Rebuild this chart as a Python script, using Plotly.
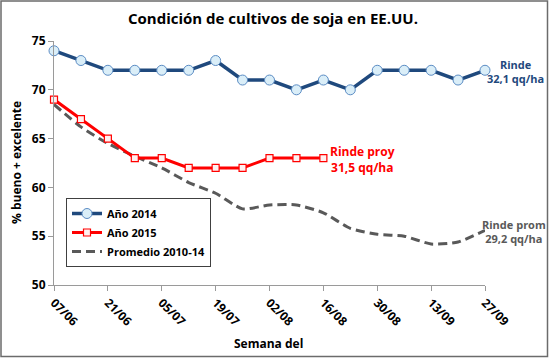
import plotly.graph_objects as go

weeks = ["07/06", "14/06", "21/06", "28/06", "05/07", "12/07", "19/07", "26/07",
         "02/08", "09/08", "16/08", "23/08", "30/08", "06/09", "13/09", "20/09", "27/09"]
anio_2014 = [74, 73, 72, 72, 72, 72, 73, 71, 71, 70, 71, 70, 72, 72, 72, 71, 72]
anio_2015 = [69, 67, 65, 63, 63, 62, 62, 62, 63, 63, 63]
promedio = [68.5, 66.2, 64.5, 63.2, 62.0, 60.5, 59.4, 57.8, 58.2, 58.2, 57.4,
            55.8, 55.2, 55.0, 54.2, 54.4, 55.6]
tick_labels = weeks[::2]

W, H = 549, 358
L, R, T, B = 54, 485, 41, 285
pw, ph = R - L, B - T

def xp(px):
    return (px - L) / pw

def yp(py):
    return (B - py) / ph

FONT = "Open Sans"
BLUE = "#1F497D"
RED = "#FF0000"
GREY = "#595959"

fig = go.Figure()
fig.add_trace(go.Scatter(
    x=weeks, y=promedio, name="Promedio 2010-14", mode="lines",
    line=dict(color=GREY, width=3, dash="9px,5px", shape="spline", smoothing=0.6),
    cliponaxis=False))
fig.add_trace(go.Scatter(
    x=weeks[:len(anio_2015)], y=anio_2015, name="Año 2015", mode="lines+markers",
    line=dict(color=RED, width=3),
    marker=dict(symbol="square", size=7, color="#FFF0F0", line=dict(color=RED, width=1.2)),
    cliponaxis=False))
fig.add_trace(go.Scatter(
    x=weeks, y=anio_2014, name="Año 2014", mode="lines+markers",
    line=dict(color=BLUE, width=3.5),
    marker=dict(symbol="circle", size=10, color="#DAEEF8", line=dict(color="#5B8CC4", width=1)),
    cliponaxis=False))

fig.update_layout(
    width=W, height=H,
    margin=dict(l=L, r=W - R, t=T, b=H - B),
    paper_bgcolor="white", plot_bgcolor="white",
    font=dict(family=FONT, color="black"),
    showlegend=True,
    legend=dict(
        x=xp(66), y=yp(198), xanchor="left", yanchor="top",
        bordercolor="#404040", borderwidth=1, bgcolor="white",
        font=dict(size=11, family=FONT, color="black", weight="bold"),
        traceorder="reversed", itemwidth=30, tracegroupgap=0,
    ),
    xaxis=dict(
        type="category", range=[0, len(weeks) - 1],
        tickmode="array", tickvals=tick_labels, ticktext=tick_labels,
        tickangle=45, ticks="outside", ticklen=5, tickcolor="#9a9a9a",
        showline=True, linecolor="#9a9a9a", linewidth=1, showgrid=False,
        tickfont=dict(size=12, family=FONT, color="black", weight="bold"),
    ),
    yaxis=dict(
        range=[50, 75], dtick=5, ticks="outside", ticklen=5, tickcolor="#9a9a9a",
        showline=True, linecolor="#9a9a9a", linewidth=1, showgrid=False, zeroline=False,
        tickfont=dict(size=12, family=FONT, color="black", weight="bold"),
    ),
)

anns = [
    dict(text="Condición de cultivos de soja en EE.UU.", x=xp(273), y=yp(18),
         font=dict(size=15, color="black", weight="bold")),
    dict(text="% bueno + excelente", x=xp(16), y=yp(163), textangle=-90,
         font=dict(size=12, color="black", weight="bold")),
    dict(text="Semana del", x=xp(268), y=yp(343),
         font=dict(size=12, color="black", weight="bold")),
    dict(text="Rinde<br>32,1 qq/ha", x=xp(515), y=yp(71),
         font=dict(size=11, color=BLUE, weight="bold")),
    dict(text="Rinde proy<br>31,5 qq/ha", x=xp(362), y=yp(159),
         font=dict(size=12, color=RED, weight="bold")),
    dict(text="Rinde prom<br>29,2 qq/ha", x=xp(514), y=yp(231),
         font=dict(size=11, color=GREY, weight="bold")),
]
for a in anns:
    fig.add_annotation(xref="paper", yref="paper", showarrow=False,
                       xanchor="center", yanchor="middle", align="center", **a)

fig.add_shape(type="rect", xref="paper", yref="paper",
              x0=xp(1), x1=xp(547.5), y0=yp(356.5), y1=yp(1),
              line=dict(color="#6b6b6b", width=1.5), fillcolor="rgba(0,0,0,0)", layer="above")

fig.write_html("out.html", config={"displayModeBar": False},
               post_script="document.body.style.margin='0';document.body.style.overflow='hidden';")
